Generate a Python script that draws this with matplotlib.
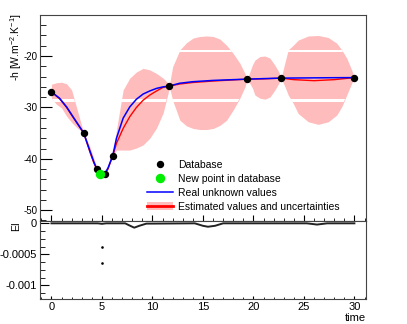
import numpy as np
import matplotlib.pyplot as plt
from matplotlib.lines import Line2D
from matplotlib.patches import Patch
from matplotlib.ticker import MultipleLocator

plt.rcParams['font.family'] = ['Liberation Sans', 'DejaVu Sans']
plt.rcParams['mathtext.fontset'] = 'custom'
plt.rcParams['mathtext.rm'] = 'Liberation Sans'
plt.rcParams['mathtext.it'] = 'Liberation Sans:italic'
plt.rcParams['font.size'] = 7.5
plt.rcParams['axes.unicode_minus'] = False

# database points
db_time = [0, 3.2, 4.49, 5.28, 6.07, 11.66, 19.39, 22.74, 30]
db_h = [-27.0, -35.0, -42.0, -42.9, -39.4, -25.85, -24.5, -24.3, -24.2]
new_time = [4.85]
new_h = [-42.9]

# curves
curve_time = [0, 0.8, 1.5, 2.1, 2.8, 3.2, 3.8, 4.2, 4.49, 4.85, 5.28, 5.6, 6.07,
              6.44, 7.1, 7.76, 8.42, 9.08, 9.74, 10.41, 11.06, 11.66, 12.7, 14,
              16, 18, 19.39, 21, 22.74, 24, 26, 28, 30]
real_h = [-27.0, -28.2, -29.9, -31.7, -33.8, -35.0, -38.4, -40.6, -42.0, -42.9,
          -42.9, -41.8, -39.4, -36.0, -32.1, -29.9, -28.4, -27.4, -26.8, -26.3,
          -26.0, -25.85, -25.3, -25.0, -24.75, -24.6, -24.5, -24.4, -24.3,
          -24.28, -24.25, -24.22, -24.2]
est_h = [-27.0, -28.3, -30.0, -31.8, -33.8, -35.0, -38.6, -40.8, -42.0, -42.9,
         -42.9, -42.0, -39.4, -37.0, -34.1, -31.8, -30.0, -28.6, -27.6, -26.8,
         -26.1, -25.85, -25.45, -25.15, -24.87, -24.65, -24.5, -24.45, -24.3,
         -24.6, -24.8, -24.6, -24.2]

# uncertainty band
band_time = [0, 0.5, 1.0, 1.5, 2.0, 2.5, 3.2, 3.8, 4.49, 5.28, 6.07, 6.44, 7.1,
             7.76, 8.42, 9.08, 9.74, 10.41, 11.06, 11.56, 11.66, 12.0, 12.72,
             13.38, 14.03, 14.7, 15.36, 16.02, 16.68, 17.34, 18.0, 18.66, 19.16,
             19.39, 19.9, 20.15, 20.64, 21.14, 21.63, 22.13, 22.52, 22.74, 23.13,
             23.45, 23.94, 24.44, 25.43, 26.42, 27.41, 28.25, 28.74, 29.24,
             29.73, 30]
band_high = [-25.5, -25.2, -25.1, -25.4, -26.6, -30.1, -35.0, -37.6, -41.6, -42.7,
             -39.4, -34.4, -26.6, -24.3, -23.1, -22.4, -22.7, -23.4, -24.3, -25.3,
             -25.85, -22.1, -18.8, -17.4, -16.5, -16.2, -16.1, -16.2, -16.7,
             -17.9, -19.5, -21.4, -23.4, -24.5, -21.75, -20.8, -20.1, -20.0,
             -20.4, -21.8, -23.1, -24.3, -21.2, -18.8, -17.9, -16.9, -16.1,
             -16.0, -16.4, -17.5, -18.8, -20.4, -22.7, -24.2]
band_low = [-28.2, -29.4, -30.1, -31.7, -32.9, -33.9, -35.0, -39.2, -42.4, -43.1,
            -39.4, -38.3, -38.3, -38.3, -37.9, -37.3, -36.0, -34.0, -31.1, -27.2,
            -25.85, -28.6, -32.5, -33.6, -34.1, -34.3, -34.3, -34.1, -33.5,
            -32.5, -30.5, -28.2, -26.0, -24.5, -26.2, -27.6, -28.2, -28.4,
            -28.0, -26.6, -25.3, -24.3, -26.0, -27.6, -29.2, -31.2, -32.8,
            -33.3, -32.8, -31.5, -29.9, -27.6, -25.3, -24.2]

# expected improvement
ei_time = [0, 4.6, 5.0, 5.4, 7.3, 7.8, 8.2, 8.7, 9.4, 14.2, 15.0, 15.5, 16.2,
           17.0, 25.3, 26.3, 27.3, 30]
ei_val = [0, 0, -0.000008, 0, 0, -0.00004, -0.00007, -0.00004, -0.000005, 0,
          -0.00004, -0.000055, -0.00004, 0, 0, -0.00002, 0, 0]
ei_spike_time = [5, 5]
ei_spike_val = [-0.000387, -0.000645]

pink = '#ffbcbc'

fig = plt.figure(figsize=(4.07, 3.24), dpi=100)
ax = fig.add_axes([0.0983, 0.318, 0.801, 0.636])
ax2 = fig.add_axes([0.0983, 0.0772, 0.801, 0.2407], sharex=ax)

band = ax.fill_between(band_time, band_low, band_high, color=pink, lw=0, zorder=1)
# white gaps of the pattern fill
for lo, hi in [(-28.87, -28.38), (-19.22, -18.83)]:
    gap = ax.axhspan(lo, hi, color='white', lw=0, zorder=1.1)
    gap.set_clip_path(band.get_paths()[0], ax.transData)

ax.plot(curve_time, est_h, color='red', lw=1.0, zorder=2)
ax.plot(curve_time, real_h, color='blue', lw=1.1, zorder=3)
ax.plot(db_time, db_h, 'o', color='black', ms=4.3, zorder=4)
ax.plot(new_time, new_h, 'o', color='#00ee00', ms=5.8, zorder=5)

ax.set_xlim(-1.13, 31.15)
ax.set_ylim(-52.1, -12)
ax.set_ylabel('-h [W.m$^{-2}$.K$^{-1}$]', loc='top', fontsize=7.5)
ax.yaxis.set_label_coords(-0.05, 1.01)
ax.yaxis.set_major_locator(MultipleLocator(10))
ax.yaxis.set_minor_locator(MultipleLocator(2))
ax.xaxis.set_major_locator(MultipleLocator(5))
ax.xaxis.set_minor_locator(MultipleLocator(1))
ax.tick_params(which='both', direction='in', labelbottom=False, pad=2)
ax.tick_params(axis='y', which='major', length=8.4, labelsize=7)
ax.tick_params(axis='y', which='minor', length=4.3)
ax.tick_params(axis='x', which='major', length=4.5)
ax.tick_params(axis='x', which='minor', length=2.3)

handles = [
    Line2D([], [], ls='none', marker='o', color='black', ms=4.3),
    Line2D([], [], ls='none', marker='o', color='#00ee00', ms=5.8),
    Line2D([], [], color='blue', lw=1.1),
    (Patch(facecolor=pink, lw=0), Line2D([], [], color='red', lw=2)),
]
labels = ['Database', 'New point in database', 'Real unknown values',
          'Estimated values and uncertainties']
ax.legend(handles, labels, loc='upper left', bbox_to_anchor=(0.312, 0.322),
          frameon=False, borderpad=0, handlelength=2.46, handletextpad=0.55,
          labelspacing=0.38, fontsize=7.5)

ax2.plot(ei_time, ei_val, color='#222222', lw=1.4)
ax2.plot(ei_spike_time, ei_spike_val, 's', color='black', ms=0.8)
ax2.set_ylim(-0.00122, 0.0000374)
ax2.set_ylabel('EI', loc='top', fontsize=7.5)
ax2.yaxis.set_label_coords(-0.058, 1.0)
ax2.set_xlabel('time', loc='right', labelpad=1, fontsize=8)
ax2.set_yticks([0, -0.0005, -0.001], ['0', '-0.0005', '-0.001'])
ax2.yaxis.set_minor_locator(MultipleLocator(0.000125))
ax2.tick_params(which='both', direction='in', pad=2, labelsize=8)
ax2.tick_params(axis='y', which='major', length=6.5)
ax2.tick_params(axis='y', which='minor', length=3.3)
ax2.tick_params(axis='x', which='major', length=2.5)
ax2.tick_params(axis='x', which='minor', length=1.3)

for a in (ax, ax2):
    for s in a.spines.values():
        s.set_color('#444444')
        s.set_linewidth(0.8)

fig.savefig('out.png', dpi=100)
